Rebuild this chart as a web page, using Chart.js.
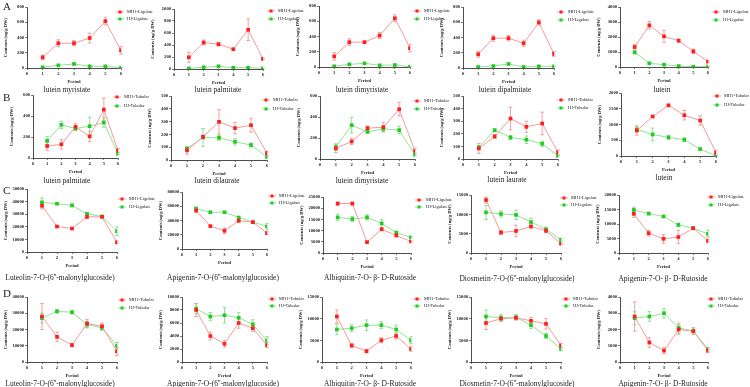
<!DOCTYPE html>
<html>
<head>
<meta charset="utf-8">
<script src="https://cdn.jsdelivr.net/npm/chart.js@4.4.0/dist/chart.umd.min.js"></script>
<style>
  html, body { margin: 0; padding: 0; background: #fff; }
  #wrap { position: relative; width: 750px; height: 387px; overflow: hidden; font-family: "Liberation Serif", serif; }
  #wrap canvas { position: absolute; }
  .ttl { position: absolute; font-size: 7.5px; white-space: nowrap; transform: translate(-50%, -50%); color: #222; }
  .row { position: absolute; font-size: 11px; color: #222; }
</style>
</head>
<body>
<div id="wrap"></div>
<script>
// x axis: sampling periods
const periods = [1, 2, 3, 4, 5, 6];

// series names
const ligulate = ["MH1-Ligulate", "HJ-Ligulate"];
const tubular = ["MH1-Tubular", "HJ-Tubular"];

// panel titles
const titlesA = ["lutein myristate", "lutein palmitate", "lutein dimyristate", "lutein dipalmitate", "lutein"];
const titlesB = ["lutein palmitate", "lutein dilaurate", "lutein dimyristate", "lutein laurate", "lutein"];
const titlesC = ["Luteolin-7-O-(6''-malonylglucoside)", "Apigenin-7-O-(6''-malonylglucoside)", "Albiquitin-7-O- β- D-Rutoside", "Diosmetin-7-O-(6''-malonylglucoside)", "Apigenin-7-O- β- D-Rutoside"];
const titlesD = titlesC;

// y axis maxima and tick steps
const yMaxA = [800, 1000, 800, 800, 4000];
const stepA = [200, 200, 200, 200, 1000];
const yMaxB = [600, 500, 600, 500, 2000];
const stepB = [200, 100, 200, 100, 500];
const yMaxC = [50000, 80000, 25000, 15000, 20000];
const stepC = [10000, 20000, 5000, 5000, 5000];
const yMaxD = [40000, 10000, 15000, 15000, 4000];
const stepD = [10000, 2000, 5000, 5000, 1000];

// row A (ligulate, carotenoid esters)
const a1Red = [140, 325, 325, 393, 615, 230], a1RedErr = [30, 45, 35, 65, 50, 50];
const a1Green = [9, 35, 53, 22, 22, 4], a1GreenErr = [4, 6, 6, 4, 4, 2];
const a2Red = [195, 441, 413, 330, 654, 168], a2RedErr = [85, 40, 30, 15, 180, 10];
const a2Green = [11, 28, 45, 22, 22, 11], a2GreenErr = [4, 5, 6, 4, 4, 2];
const a3Red = [139, 326, 326, 413, 639, 248], a3RedErr = [50, 45, 5, 40, 45, 50];
const a3Green = [9, 35, 48, 22, 26, 4], a3GreenErr = [4, 6, 6, 4, 4, 2];
const a4Red = [180, 391, 391, 325, 598, 185], a4RedErr = [40, 40, 35, 40, 35, 30];
const a4Green = [13, 26, 53, 13, 22, 22], a4GreenErr = [4, 4, 6, 4, 4, 4];
const a5Red = [1333, 2778, 2044, 1756, 1044, 356], a5RedErr = [150, 250, 400, 100, 150, 50];
const a5Green = [978, 244, 156, 67, 22, 20], a5GreenErr = [100, 30, 20, 10, 5, 5];

// row B (tubular, carotenoid esters)
const b1Red = [114, 130, 297, 205, 461, 70], b1RedErr = [40, 45, 30, 50, 110, 20];
const b1Green = [164, 316, 281, 303, 338, 41], b1GreenErr = [40, 35, 20, 85, 45, 10];
const b2Red = [75, 181, 298, 249, 272, 54], b2RedErr = [30, 15, 95, 45, 55, 15];
const b2Green = [88, 176, 174, 142, 117, 23], b2GreenErr = [10, 70, 20, 25, 15, 5];
const b3Red = [101, 167, 294, 303, 474, 76], b3RedErr = [40, 30, 20, 45, 65, 25];
const b3Green = [114, 322, 259, 287, 275, 41], b3GreenErr = [30, 75, 15, 30, 35, 10];
const b4Red = [84, 179, 321, 255, 282, 53], b4RedErr = [40, 15, 90, 45, 90, 20];
const b4Green = [92, 229, 171, 153, 121, 24], b4GreenErr = [15, 10, 15, 30, 20, 5];
const b5Red = [810, 1253, 1610, 1295, 1126, 105], b5RedErr = [150, 20, 20, 150, 150, 80];
const b5Green = [842, 684, 589, 516, 221, 10], b5GreenErr = [80, 200, 60, 60, 15, 5];

// row C (ligulate, flavonoids)
const c1Red = [36700, 20200, 18600, 27900, 27900, 7700], c1RedErr = [2500, 500, 500, 1500, 500, 1000];
const c1Green = [39400, 38300, 37000, 30300, 28200, 16500], c1GreenErr = [3500, 500, 1000, 800, 500, 3500];
const c2Red = [54000, 32100, 25600, 39500, 37700, 22300], c2RedErr = [3000, 1000, 4000, 1000, 1000, 2000];
const c2Green = [56700, 51600, 51600, 44200, 37700, 31600], c2GreenErr = [2000, 1000, 1000, 1000, 1000, 4000];
const c3Red = [22060, 22060, 4850, 10600, 7800, 5150], c3RedErr = [700, 700, 300, 600, 500, 300];
const c3Green = [15900, 15150, 15900, 13200, 9100, 7000], c3GreenErr = [1500, 1200, 1200, 1800, 600, 300];
const c4Red = [13700, 5300, 5700, 6850, 5750, 2400], c4RedErr = [800, 500, 1500, 400, 500, 200];
const c4Green = [10500, 10100, 9850, 8000, 6150, 3400], c4GreenErr = [1800, 800, 1200, 1000, 300, 400];
const c5Red = [13500, 6850, 4900, 5500, 8550, 4200], c5RedErr = [1200, 1000, 1500, 2300, 300, 400];
const c5Green = [14850, 13600, 12600, 9700, 8550, 6600], c5GreenErr = [1000, 400, 300, 600, 300, 1300];

// row D (tubular, flavonoids)
const d1Red = [28000, 15500, 10400, 23700, 22000, 6500], d1RedErr = [8000, 3000, 1000, 2500, 2000, 2500];
const d1Green = [27000, 31200, 30600, 23000, 21000, 10000], d1GreenErr = [3000, 1000, 1000, 2000, 1500, 2000];
const d2Red = [8000, 4000, 2800, 6000, 5200, 2600], d2RedErr = [1000, 600, 500, 800, 500, 400];
const d2Green = [8200, 7000, 7200, 6800, 5800, 3300], d2GreenErr = [800, 600, 1200, 800, 700, 600];
const d3Red = [10500, 3800, 2500, 5000, 6000, 3000], d3RedErr = [1500, 500, 400, 600, 700, 500];
const d3Green = [7500, 7800, 8500, 8500, 7500, 5000], d3GreenErr = [1200, 800, 1200, 800, 1000, 800];
const d4Red = [9000, 10000, 10200, 9500, 8800, 3800], d4RedErr = [1500, 600, 500, 800, 1200, 500];
const d4Green = [10500, 10200, 10300, 8500, 6000, 3000], d4GreenErr = [1500, 800, 600, 800, 600, 400];
const d5Red = [2800, 1200, 700, 2000, 1900, 700], d5RedErr = [900, 300, 200, 300, 200, 100];
const d5Green = [2700, 2800, 3000, 2100, 1900, 800], d5GreenErr = [400, 300, 300, 300, 200, 100];

const RED = "#ff1f1f", RED_LINE = "#f59a9a";
const GREEN = "#22cc22", GREEN_LINE = "#92e392";

// plot boxes [left, right, top, bottom], legend offset [dx, dy, gap], title centre [x, y]
const panels = [
  { t: titlesA[0], max: yMaxA[0], step: stepA[0], r: a1Red, re: a1RedErr, g: a1Green, ge: a1GreenErr, n: ligulate, box: [27, 121, 7, 68], leg: [-5, 5, 7], tc: [67, 89] },
  { t: titlesA[1], max: yMaxA[1], step: stepA[1], r: a2Red, re: a2RedErr, g: a2Green, ge: a2GreenErr, n: ligulate, box: [174, 263, 9, 69], leg: [4, 2, 8], tc: [218, 89] },
  { t: titlesA[2], max: yMaxA[2], step: stepA[2], r: a3Red, re: a3RedErr, g: a3Green, ge: a3GreenErr, n: ligulate, box: [319, 410, 6, 67], leg: [3, 5, 8], tc: [362, 89] },
  { t: titlesA[3], max: yMaxA[3], step: stepA[3], r: a4Red, re: a4RedErr, g: a4Green, ge: a4GreenErr, n: ligulate, box: [463, 554, 7, 68], leg: [3, 5, 8], tc: [505, 89] },
  { t: titlesA[4], max: yMaxA[4], step: stepA[4], r: a5Red, re: a5RedErr, g: a5Green, ge: a5GreenErr, n: ligulate, box: [620, 708, 7, 67], leg: [4, 5, 8], tc: [662, 89] },

  { t: titlesB[0], max: yMaxB[0], step: stepB[0], r: b1Red, re: b1RedErr, g: b1Green, ge: b1GreenErr, n: tubular, box: [33, 118, 95, 158], leg: [-5, 2, 9], tc: [67, 180] },
  { t: titlesB[1], max: yMaxB[1], step: stepB[1], r: b2Red, re: b2RedErr, g: b2Green, ge: b2GreenErr, n: tubular, box: [171, 267, 96, 160], leg: [-5, 4, 9], tc: [217, 180] },
  { t: titlesB[2], max: yMaxB[2], step: stepB[2], r: b3Red, re: b3RedErr, g: b3Green, ge: b3GreenErr, n: tubular, box: [320, 415, 96, 159], leg: [-2, 5, 8], tc: [362, 180] },
  { t: titlesB[3], max: yMaxB[3], step: stepB[3], r: b4Red, re: b4RedErr, g: b4Green, ge: b4GreenErr, n: tubular, box: [463, 558, 96, 159], leg: [-1, 4, 8], tc: [507, 179] },
  { t: titlesB[4], max: yMaxB[4], step: stepB[4], r: b5Red, re: b5RedErr, g: b5Green, ge: b5GreenErr, n: tubular, box: [621, 716, 93, 156], leg: [-3, 3, 9], tc: [664, 177] },

  { t: titlesC[0], max: yMaxC[0], step: stepC[0], r: c1Red, re: c1RedErr, g: c1Green, ge: c1GreenErr, n: ligulate, box: [27, 117, 189, 252], leg: [1, 10, 8], tc: [60, 277] },
  { t: titlesC[1], max: yMaxC[1], step: stepC[1], r: c2Red, re: c2RedErr, g: c2Green, ge: c2GreenErr, n: ligulate, box: [182, 267, 192, 249], leg: [1, 4, 7], tc: [223, 277] },
  { t: titlesC[2], max: yMaxC[2], step: stepC[2], r: c3Red, re: c3RedErr, g: c3Green, ge: c3GreenErr, n: ligulate, box: [323, 411, 197, 253], leg: [4, 3, 7], tc: [370, 277] },
  { t: titlesC[3], max: yMaxC[3], step: stepC[3], r: c4Red, re: c4RedErr, g: c4Green, ge: c4GreenErr, n: ligulate, box: [471, 561, 195, 253], leg: [-1, 3, 7], tc: [517, 278] },
  { t: titlesC[4], max: yMaxC[4], step: stepC[4], r: c5Red, re: c5RedErr, g: c5Green, ge: c5GreenErr, n: ligulate, box: [619, 708, 195, 253], leg: [-1, 2, 8], tc: [663, 278] },

  { t: titlesD[0], max: yMaxD[0], step: stepD[0], r: d1Red, re: d1RedErr, g: d1Green, ge: d1GreenErr, n: tubular, box: [27, 117, 297, 362], leg: [1, 3, 8], tc: [60, 383] },
  { t: titlesD[1], max: yMaxD[1], step: stepD[1], r: d2Red, re: d2RedErr, g: d2Green, ge: d2GreenErr, n: tubular, box: [182, 267, 297, 362], leg: [1, 2, 7], tc: [223, 383] },
  { t: titlesD[2], max: yMaxD[2], step: stepD[2], r: d3Red, re: d3RedErr, g: d3Green, ge: d3GreenErr, n: tubular, box: [322, 411, 297, 362], leg: [2, 2, 7], tc: [370, 383] },
  { t: titlesD[3], max: yMaxD[3], step: stepD[3], r: d4Red, re: d4RedErr, g: d4Green, ge: d4GreenErr, n: tubular, box: [471, 561, 297, 362], leg: [1, 2, 7], tc: [517, 383] },
  { t: titlesD[4], max: yMaxD[4], step: stepD[4], r: d5Red, re: d5RedErr, g: d5Green, ge: d5GreenErr, n: tubular, box: [620, 708, 297, 362], leg: [-1, 2, 7], tc: [663, 383] }
];

const rowLetters = [["A", 3, 6], ["B", 3, 97], ["C", 3, 190], ["D", 3, 293]];

// error bars drawn from the y scale
const errorBars = {
  id: "errorBars",
  beforeDatasetsDraw(chart) {
    const ctx = chart.ctx, ys = chart.scales.y;
    chart.data.datasets.forEach((ds, i) => {
      const meta = chart.getDatasetMeta(i);
      ctx.save();
      ctx.strokeStyle = ds.errColor;
      ctx.lineWidth = 0.8;
      meta.data.forEach((pt, j) => {
        const v = ds.data[j].y, e = ds.errors[j];
        const y1 = ys.getPixelForValue(v + e), y2 = ys.getPixelForValue(Math.max(0, v - e));
        ctx.beginPath();
        ctx.moveTo(pt.x, y1); ctx.lineTo(pt.x, y2);
        ctx.moveTo(pt.x - 1.8, y1); ctx.lineTo(pt.x + 1.8, y1);
        ctx.moveTo(pt.x - 1.8, y2); ctx.lineTo(pt.x + 1.8, y2);
        ctx.stroke();
      });
      ctx.restore();
    });
  }
};

// small legend in the top right corner of each panel
const sideLegend = {
  id: "sideLegend",
  afterDraw(chart, args, opts) {
    const ctx = chart.ctx, a = chart.chartArea;
    const [dx, dy, gap] = opts.leg;
    chart.data.datasets.forEach((ds, i) => {
      const x = a.right + dx, y = a.top + dy + i * gap;
      ctx.save();
      ctx.strokeStyle = ds.borderColor;
      ctx.lineWidth = 1;
      ctx.beginPath(); ctx.moveTo(x, y); ctx.lineTo(x + 8, y); ctx.stroke();
      ctx.fillStyle = ds.pointBackgroundColor;
      ctx.fillRect(x + 2.5, y - 1.5, 3, 3);
      ctx.fillStyle = "#222";
      ctx.font = "4.5px 'Liberation Serif'";
      ctx.textBaseline = "middle";
      ctx.fillText(ds.label, x + 11, y + 0.3);
      ctx.restore();
    });
  }
};

const wrap = document.getElementById("wrap");

function series(label, vals, errs, color, line, errColor) {
  return {
    label: label,
    data: periods.map((x, i) => ({ x: x, y: vals[i] })),
    errors: errs,
    errColor: errColor,
    borderColor: line,
    borderWidth: 1,
    pointStyle: "rect",
    pointRadius: 2.6,
    pointBackgroundColor: color,
    pointBorderColor: color,
    pointBorderWidth: 0,
    tension: 0
  };
}

function makeChart(p) {
  const YW = 24, XH = 17, PT = 5, PR = 50;
  const [L, R, T, B] = p.box;
  const left = L - YW, top = T - PT;
  const w = R - left + PR, h = B + XH - top;
  const cv = document.createElement("canvas");
  cv.width = w; cv.height = h;
  cv.style.left = left + "px"; cv.style.top = top + "px";
  cv.style.width = w + "px"; cv.style.height = h + "px";
  wrap.appendChild(cv);

  const tickFont = { family: "'Liberation Serif'", size: 4.6, weight: "bold" };
  const titleFont = { family: "'Liberation Serif'", size: 4.6, weight: "bold" };

  new Chart(cv, {
    type: "line",
    data: {
      datasets: [
        series(p.n[0], p.r, p.re, RED, RED_LINE, "#f28b8b"),
        series(p.n[1], p.g, p.ge, GREEN, GREEN_LINE, "#7fd87f")
      ]
    },
    options: {
      responsive: false,
      animation: false,
      devicePixelRatio: 1,
      layout: { padding: { top: PT, right: PR, left: 0, bottom: 0 } },
      plugins: { legend: { display: false }, tooltip: { enabled: false }, sideLegend: { leg: p.leg } },
      scales: {
        x: {
          type: "linear", min: 0, max: 6,
          afterFit: s => { s.height = XH; },
          ticks: { stepSize: 1, font: tickFont, color: "#222", padding: 1, maxRotation: 0 },
          grid: { display: true, drawOnChartArea: false, drawTicks: true, tickLength: 2, color: "#222", lineWidth: 0.6 },
          border: { display: true, color: "#222", width: 0.8 },
          title: { display: true, text: "Period", font: titleFont, color: "#222", padding: { top: 1, bottom: 0 } }
        },
        y: {
          min: 0, max: p.max,
          afterFit: s => { s.width = YW; },
          ticks: { stepSize: p.step, font: tickFont, color: "#222", padding: 1, callback: v => String(v) },
          grid: { display: true, drawOnChartArea: false, drawTicks: true, tickLength: 2, color: "#222", lineWidth: 0.6 },
          border: { display: true, color: "#222", width: 0.8 },
          title: { display: true, text: "Contents (ug/g DW)", font: titleFont, color: "#222", padding: { top: 0, bottom: 1 } }
        }
      }
    },
    plugins: [errorBars, sideLegend]
  });

  const t = document.createElement("div");
  t.className = "ttl";
  t.textContent = p.t;
  t.style.left = p.tc[0] + "px";
  t.style.top = p.tc[1] + "px";
  wrap.appendChild(t);
}

panels.forEach(makeChart);

rowLetters.forEach(([s, x, y]) => {
  const d = document.createElement("div");
  d.className = "row";
  d.textContent = s;
  d.style.left = x + "px";
  d.style.top = (y - 6) + "px";
  wrap.appendChild(d);
});
</script>
</body>
</html>
